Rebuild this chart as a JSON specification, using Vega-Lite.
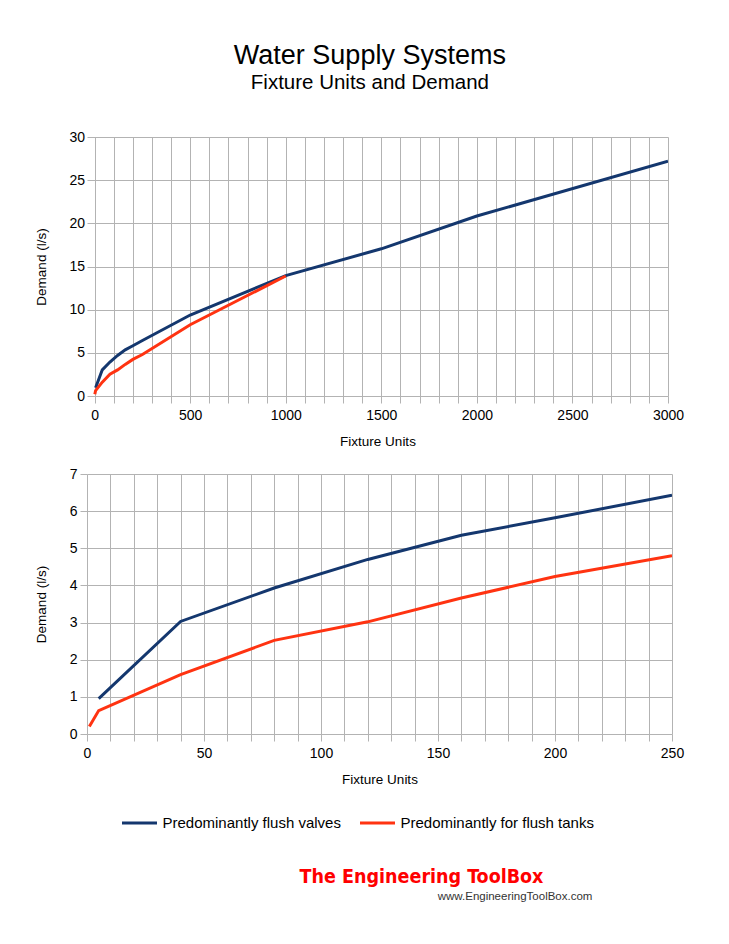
{
  "$schema": "https://vega.github.io/schema/vega-lite/v6.json",
  "background": "white",
  "padding": {"left": 34, "top": 42, "right": 10, "bottom": 10},
  "title": {
    "text": "Water Supply Systems",
    "subtitle": "Fixture Units and Demand",
    "font": "Liberation Sans",
    "fontSize": 27,
    "fontWeight": "normal",
    "color": "#000000",
    "subtitleFont": "Liberation Sans",
    "subtitleFontSize": 20.5,
    "subtitleColor": "#000000",
    "subtitlePadding": 3,
    "anchor": "middle",
    "dx": 11,
    "offset": 35.5
  },
  "datasets": {
    "demand": [
      {"series": "Predominantly flush valves", "fu": 5, "demand": 0.95},
      {"series": "Predominantly flush valves", "fu": 40, "demand": 3.03},
      {"series": "Predominantly flush valves", "fu": 80, "demand": 3.93},
      {"series": "Predominantly flush valves", "fu": 120, "demand": 4.7},
      {"series": "Predominantly flush valves", "fu": 160, "demand": 5.35},
      {"series": "Predominantly flush valves", "fu": 200, "demand": 5.82},
      {"series": "Predominantly flush valves", "fu": 250, "demand": 6.43},
      {"series": "Predominantly flush valves", "fu": 500, "demand": 9.38},
      {"series": "Predominantly flush valves", "fu": 1000, "demand": 13.95},
      {"series": "Predominantly flush valves", "fu": 1500, "demand": 17.05},
      {"series": "Predominantly flush valves", "fu": 2000, "demand": 20.85},
      {"series": "Predominantly flush valves", "fu": 3000, "demand": 27.2},
      {"series": "Predominantly for flush tanks", "fu": 1, "demand": 0.2},
      {"series": "Predominantly for flush tanks", "fu": 5, "demand": 0.63},
      {"series": "Predominantly for flush tanks", "fu": 40, "demand": 1.6},
      {"series": "Predominantly for flush tanks", "fu": 80, "demand": 2.52},
      {"series": "Predominantly for flush tanks", "fu": 120, "demand": 3.02},
      {"series": "Predominantly for flush tanks", "fu": 160, "demand": 3.66},
      {"series": "Predominantly for flush tanks", "fu": 200, "demand": 4.24},
      {"series": "Predominantly for flush tanks", "fu": 250, "demand": 4.8},
      {"series": "Predominantly for flush tanks", "fu": 500, "demand": 8.25},
      {"series": "Predominantly for flush tanks", "fu": 1000, "demand": 13.9}
    ],
    "logo": [{"name": "The Engineering ToolBox", "url": "www.EngineeringToolBox.com"}]
  },
  "columns": 1,
  "align": "none",
  "spacing": 19,
  "resolve": {"legend": {"color": "independent"}},
  "concat": [
    {
      "width": 581,
      "height": 259,
      "data": {"name": "demand"},
      "mark": {"type": "line", "strokeWidth": 3, "clip": true},
      "encoding": {
        "x": {
          "field": "fu", "type": "quantitative",
          "scale": {"domain": [-40, 3000], "nice": false, "zero": false},
          "axis": {
            "title": "Fixture Units",
            "values": [0,100,200,300,400,500,600,700,800,900,1000,1100,1200,1300,1400,1500,1600,1700,1800,1900,2000,2100,2200,2300,2400,2500,2600,2700,2800,2900,3000],
            "labelExpr": "datum.value % 500 === 0 ? datum.label : ''",
            "format": "d"
          }
        },
        "y": {
          "field": "demand", "type": "quantitative",
          "scale": {"domain": [0, 30], "nice": false},
          "axis": {"title": "Demand (l/s)", "values": [0,5,10,15,20,25,30], "offset": -7.64}
        },
        "color": {
          "field": "series", "type": "nominal",
          "scale": {"domain": ["Predominantly flush valves", "Predominantly for flush tanks"], "range": ["#14376e", "#ff3311"]},
          "legend": null
        },
        "order": {"field": "fu", "type": "quantitative"}
      }
    },
    {
      "width": 585,
      "height": 260,
      "data": {"name": "demand"},
      "transform": [{"filter": "datum.fu <= 250"}],
      "mark": {"type": "line", "strokeWidth": 3, "clip": true},
      "encoding": {
        "x": {
          "field": "fu", "type": "quantitative",
          "scale": {"domain": [0, 250], "nice": false},
          "axis": {
            "title": "Fixture Units",
            "values": [0,10,20,30,40,50,60,70,80,90,100,110,120,130,140,150,160,170,180,190,200,210,220,230,240,250],
            "labelExpr": "datum.value % 50 === 0 ? datum.label : ''",
            "format": "d"
          }
        },
        "y": {
          "field": "demand", "type": "quantitative",
          "scale": {"domain": [0, 7], "nice": false},
          "axis": {"title": "Demand (l/s)", "values": [0,1,2,3,4,5,6,7]}
        },
        "color": {
          "field": "series", "type": "nominal",
          "scale": {"domain": ["Predominantly flush valves", "Predominantly for flush tanks"], "range": ["#14376e", "#ff3311"]},
          "legend": {
            "title": null,
            "orient": "none",
            "direction": "horizontal",
            "columns": 2,
            "legendX": 33.5,
            "legendY": 330,
            "padding": 0,
            "columnPadding": 12,
            "labelOffset": 4,
            "symbolType": "stroke",
            "symbolSize": 1225,
            "symbolStrokeWidth": 3,
            "labelFont": "Liberation Sans",
            "labelFontSize": 15,
            "labelColor": "#000000",
            "labelLimit": 0
          }
        },
        "order": {"field": "fu", "type": "quantitative"}
      }
    },
    {
      "width": 585,
      "height": 50,
      "view": {"stroke": "transparent"},
      "data": {"name": "logo"},
      "layer": [
        {
          "mark": {"type": "text", "font": "DejaVu Sans Condensed, Liberation Sans", "fontWeight": "bold", "fontSize": 19.5, "fill": "#ff0000", "align": "center", "baseline": "alphabetic"},
          "encoding": {
            "text": {"field": "name"},
            "x": {"datum": 0.5718, "type": "quantitative", "scale": {"domain": [0, 1]}, "axis": null},
            "y": {"datum": 0.37, "type": "quantitative", "scale": {"domain": [0, 1]}, "axis": null}
          }
        },
        {
          "mark": {"type": "text", "font": "Liberation Sans", "fontSize": 11.5, "fill": "#333333", "align": "right", "baseline": "alphabetic"},
          "encoding": {
            "text": {"field": "url"},
            "x": {"datum": 0.864, "type": "quantitative", "scale": {"domain": [0, 1]}, "axis": null},
            "y": {"datum": 0.02, "type": "quantitative", "scale": {"domain": [0, 1]}, "axis": null}
          }
        }
      ]
    }
  ],
  "config": {
    "view": {"stroke": null},
    "axis": {
      "domain": false,
      "grid": true,
      "gridColor": "#b3b3b3",
      "gridWidth": 1,
      "gridOpacity": 1,
      "ticks": true,
      "tickColor": "#b3b3b3",
      "tickSize": 7,
      "tickWidth": 1,
      "labelFont": "Liberation Sans",
      "labelFontSize": 14,
      "labelColor": "#000000",
      "titleFont": "Liberation Sans",
      "titleFontSize": 13.5,
      "titleFontWeight": "normal",
      "titleColor": "#000000"
    },
    "axisX": {"labelPadding": 5, "titlePadding": 12, "labelOverlap": false, "labelFlush": false},
    "axisY": {"labelPadding": 3, "titlePadding": 21}
  }
}
